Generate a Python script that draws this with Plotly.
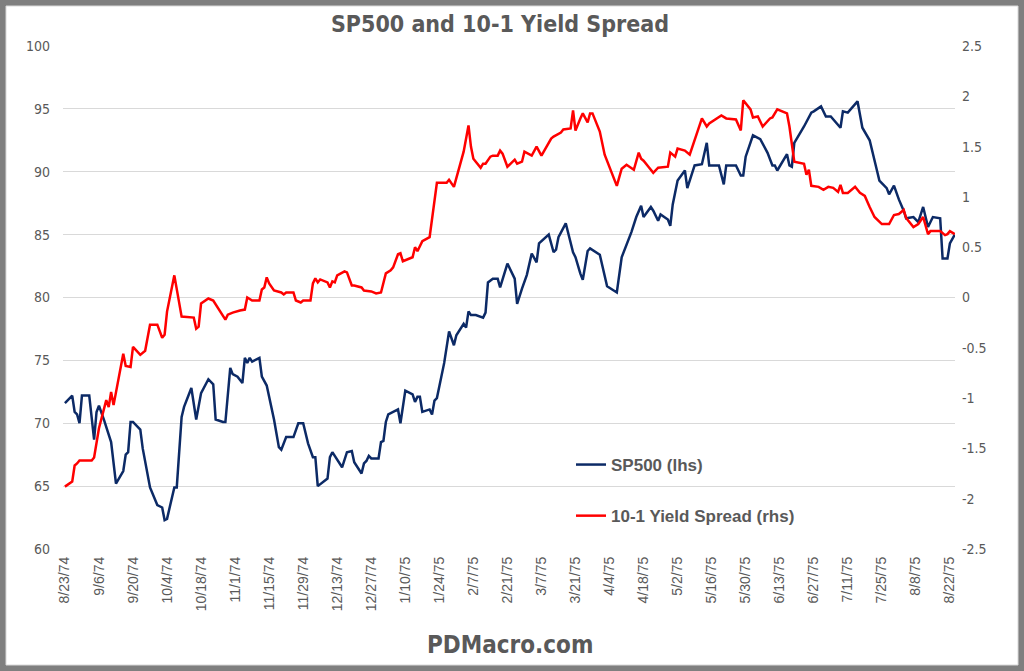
import pandas as pd
import plotly.graph_objects as go

# ---------------- data ----------------
START = "1974-08-23"
tick_labels = ["8/23/74", "9/6/74", "9/20/74", "10/4/74", "10/18/74", "11/1/74", "11/15/74",
               "11/29/74", "12/13/74", "12/27/74", "1/10/75", "1/24/75", "2/7/75", "2/21/75",
               "3/7/75", "3/21/75", "4/4/75", "4/18/75", "5/2/75", "5/16/75", "5/30/75",
               "6/13/75", "6/27/75", "7/11/75", "7/25/75", "8/8/75", "8/22/75"]

# SP500 (days since 8/23/74, level)
sp_days = [0, 3, 4, 5, 6, 7, 10, 12, 13, 14, 16, 19, 21, 24, 25, 26, 27, 28, 31, 32, 35, 38, 40, 41, 42,
           45, 46, 48, 49, 52, 54, 56, 59, 61, 62, 65, 66, 68, 69, 71, 73, 74, 75, 76, 77, 80, 81, 83,
           86, 88, 89, 91, 94, 96, 98, 100, 102, 103, 104, 108, 109, 110, 114, 116, 118, 119, 122, 123,
           124, 125, 126, 129, 130, 131, 132, 133, 137, 138, 140, 143, 144, 145, 146, 147, 150, 151,
           152, 153, 156, 158, 160, 161, 164, 165, 166, 167, 169, 172, 173, 174, 176, 178, 179, 182,
           185, 186, 188, 190, 192, 194, 195, 199, 201, 202, 203, 206, 209, 210, 212, 213, 215, 216,
           220, 221, 223, 227, 229, 233, 235, 237, 238, 241, 242, 244, 245, 248, 249, 250, 252, 255,
           256, 259, 262, 264, 265, 269, 271, 272, 276, 278, 279, 280, 283, 285, 286, 289, 291, 292,
           293, 297, 298, 299, 300, 304, 307, 308, 311, 313, 315, 319, 320, 322, 326, 328, 331, 334,
           335, 338, 339, 341, 343, 345, 346, 349, 351, 353, 355, 357, 360, 361, 363, 364, 366]
sp_values = [71.6, 72.2, 70.9, 70.7, 70.0, 72.2, 72.2, 68.7, 70.9, 71.4, 70.3, 68.5, 65.2, 66.2, 67.5,
             67.7, 70.1, 70.1, 69.5, 68.0, 64.9, 63.5, 63.3, 62.3, 62.4, 64.9, 64.9, 70.5, 71.3, 72.8,
             70.3, 72.4, 73.5, 73.1, 70.3, 70.1, 70.1, 74.4, 73.9, 73.7, 73.2, 75.2, 74.8, 75.2, 74.9,
             75.2, 73.7, 73.0, 70.3, 68.1, 67.9, 68.9, 68.9, 70.0, 70.0, 68.4, 67.3, 67.3, 65.0, 65.6,
             67.3, 67.7, 66.5, 67.7, 67.8, 66.9, 66.0, 66.8, 67.0, 67.4, 67.2, 67.2, 68.5, 68.6, 70.1,
             70.7, 71.1, 70.0, 72.6, 72.3, 71.7, 72.1, 72.1, 70.9, 71.1, 70.7, 71.8, 72.0, 74.8, 77.3,
             76.2, 77.0, 77.9, 77.6, 78.9, 78.6, 78.6, 78.4, 78.8, 81.2, 81.5, 81.5, 80.8, 82.7, 81.5,
             79.5, 80.7, 81.8, 83.5, 82.8, 84.3, 85.0, 83.6, 83.8, 84.8, 85.9, 83.6, 83.2, 81.9, 81.4,
             83.7, 83.9, 83.4, 82.6, 80.9, 80.4, 83.2, 85.2, 86.4, 87.3, 86.4, 87.2, 86.9, 86.1, 86.6,
             86.2, 85.7, 87.4, 89.3, 90.1, 88.7, 90.5, 90.6, 92.3, 90.5, 90.5, 89.0, 90.5, 90.5, 89.7,
             89.7, 91.2, 92.9, 92.7, 92.6, 91.5, 90.5, 90.5, 90.1, 91.4, 90.5, 90.4, 92.3, 93.6, 94.7,
             94.8, 95.2, 94.4, 94.4, 93.5, 94.8, 94.7, 95.6, 93.5, 92.5, 90.1, 89.3, 88.7, 88.2, 88.9,
             87.8, 86.9, 86.3, 86.4, 86.0, 87.2, 85.6, 86.4, 86.3, 83.1, 83.1, 84.3, 85.0]

# 10-1 yield spread (days since 8/23/74, percentage points)
spread_days = [0, 3, 4, 5, 6, 11, 12, 14, 17, 18, 19, 20, 24, 25, 27, 28, 31, 33, 35, 38, 40, 41, 42,
               45, 48, 53, 54, 55, 56, 59, 61, 66, 67, 69, 72, 74, 75, 77, 80, 81, 82, 83, 84, 86, 89,
               90, 91, 94, 95, 97, 98, 101, 102, 103, 104, 105, 108, 109, 110, 111, 112, 115, 116, 118,
               119, 122, 123, 126, 128, 130, 132, 134, 135, 137, 138, 139, 143, 144, 145, 147, 150, 151,
               153, 157, 158, 160, 162, 164, 166, 167, 168, 171, 172, 173, 175, 176, 178, 179, 180, 182,
               185, 186, 188, 189, 192, 194, 196, 198, 200, 201, 204, 205, 208, 209, 210, 212, 213, 215,
               216, 217, 220, 222, 224, 227, 229, 231, 234, 236, 237, 238, 240, 242, 244, 248, 249, 251,
               252, 255, 257, 259, 262, 264, 265, 270, 272, 276, 278, 279, 282, 283, 285, 287, 290, 291,
               293, 297, 298, 300, 304, 305, 306, 307, 310, 312, 314, 316, 318, 319, 320, 322, 325, 327,
               329, 331, 333, 336, 339, 341, 343, 345, 346, 349, 351, 353, 355, 356, 360, 362, 363, 364,
               366]
spread_values = [-1.88, -1.83, -1.67, -1.65, -1.62, -1.62, -1.59, -1.30, -1.02, -1.09, -0.94, -1.07,
                 -0.56, -0.68, -0.69, -0.49, -0.57, -0.53, -0.27, -0.27, -0.40, -0.37, -0.14, 0.22,
                 -0.19, -0.20, -0.31, -0.29, -0.06, -0.01, -0.03, -0.22, -0.17, -0.15, -0.13, -0.12,
                 0.00, -0.03, -0.03, 0.08, 0.10, 0.20, 0.14, 0.07, 0.05, 0.03, 0.05, 0.05, -0.03, -0.05,
                 -0.03, -0.03, 0.14, 0.19, 0.15, 0.18, 0.15, 0.10, 0.16, 0.15, 0.22, 0.26, 0.25, 0.12,
                 0.12, 0.10, 0.07, 0.06, 0.04, 0.05, 0.24, 0.27, 0.30, 0.43, 0.44, 0.36, 0.40, 0.50,
                 0.46, 0.56, 0.60, 0.80, 1.14, 1.14, 1.17, 1.10, 1.27, 1.45, 1.71, 1.50, 1.38, 1.29,
                 1.33, 1.33, 1.40, 1.41, 1.41, 1.46, 1.43, 1.30, 1.37, 1.33, 1.35, 1.45, 1.41, 1.50,
                 1.41, 1.50, 1.58, 1.60, 1.64, 1.67, 1.68, 1.86, 1.66, 1.78, 1.83, 1.74, 1.83, 1.83,
                 1.65, 1.42, 1.30, 1.11, 1.28, 1.32, 1.27, 1.44, 1.38, 1.36, 1.30, 1.24, 1.29, 1.30,
                 1.44, 1.40, 1.48, 1.46, 1.42, 1.57, 1.78, 1.70, 1.73, 1.81, 1.78, 1.77, 1.66, 1.96,
                 1.87, 1.79, 1.80, 1.70, 1.78, 1.79, 1.87, 1.83, 1.70, 1.35, 1.33, 1.22, 1.27, 1.11,
                 1.10, 1.07, 1.10, 1.09, 1.05, 1.12, 1.04, 1.04, 1.10, 1.04, 1.01, 0.90, 0.80, 0.73,
                 0.73, 0.82, 0.83, 0.87, 0.79, 0.70, 0.73, 0.80, 0.63, 0.66, 0.66, 0.62, 0.63, 0.66,
                 0.63]

left_ticks = [60, 65, 70, 75, 80, 85, 90, 95, 100]
right_ticks = [-2.5, -2, -1.5, -1, -0.5, 0, 0.5, 1, 1.5, 2, 2.5]
right_labels = ["-2.5", "-2", "-1.5", "-1", "-0.5", "0", "0.5", "1", "1.5", "2", "2.5"]

# ---------------- build ----------------
start = pd.Timestamp(START)
sp_dates = start + pd.to_timedelta(sp_days, unit="D")
spread_dates = start + pd.to_timedelta(spread_days, unit="D")
tick_dates = [start + pd.Timedelta(days=14 * i) for i in range(len(tick_labels))]

GREY = "#595959"
NARROW = "DejaVu Sans Condensed, Liberation Sans Narrow, sans-serif"

fig = go.Figure()
fig.add_trace(go.Scatter(x=sp_dates, y=sp_values, name="SP500 (lhs)", mode="lines",
                         line=dict(color="#0c2a66", width=2.5), legendgroup="a"))
fig.add_trace(go.Scatter(x=spread_dates, y=spread_values, name="10-1 Yield Spread (rhs)", mode="lines",
                         line=dict(color="#ff0000", width=2.5), yaxis="y2", legendgroup="b"))

W, H = 1024, 671
ml, mr, mt, mb = 63, 69, 46, 122
pw, ph = W - ml - mr, H - mt - mb
frame = 6
fig.add_shape(type="rect", xref="paper", yref="paper", layer="below",
              x0=(frame - ml) / pw, x1=(W - frame - ml) / pw,
              y0=-(mb - frame) / ph, y1=1 + (mt - frame) / ph,
              fillcolor="white", line=dict(color="#d9d9d9", width=1))

fig.add_annotation(text="<b>PDMacro.com</b>", xref="paper", yref="paper",
                   x=(510 - ml) / pw, y=-(645 - (H - mb)) / ph, showarrow=False,
                   font=dict(family=NARROW, size=24, color=GREY), xanchor="center", yanchor="middle")

fig.update_layout(
    width=W, height=H,
    margin=dict(l=ml, r=mr, t=mt, b=mb),
    paper_bgcolor="#7f7f7f",
    plot_bgcolor="rgba(0,0,0,0)",
    title=dict(text="<b>SP500 and 10-1 Yield Spread</b>", x=500 / W, xanchor="center",
               y=1 - 24 / H, yanchor="middle", yref="container",
               font=dict(family=NARROW, size=23, color=GREY)),
    xaxis=dict(range=[start - pd.Timedelta(hours=19), start + pd.Timedelta(days=366.1)],
               tickmode="array", tickvals=tick_dates, ticktext=tick_labels, tickangle=-90,
               showgrid=False, zeroline=False, showline=False, ticks="", ticklabelstandoff=4,
               tickfont=dict(family="Liberation Sans, Arial, sans-serif", size=14, color=GREY)),
    yaxis=dict(range=[60, 100], tickmode="array", tickvals=left_ticks,
               showgrid=True, gridcolor="#d9d9d9", gridwidth=1, zeroline=False, ticks="",
               ticklabelstandoff=12,
               tickfont=dict(family=NARROW, size=14, color=GREY)),
    yaxis2=dict(range=[-2.5, 2.5], tickmode="array", tickvals=right_ticks, ticktext=right_labels,
                overlaying="y", side="right", showgrid=False, zeroline=False, ticks="",
                ticklabelstandoff=6,
                tickfont=dict(family=NARROW, size=14, color=GREY)),
    showlegend=True,
    legend=dict(x=(571 - ml) / pw, y=(H - mb - 447) / ph, xanchor="left", yanchor="top",
                bgcolor="rgba(0,0,0,0)", tracegroupgap=26, traceorder="grouped",
                font=dict(family="Liberation Sans, Arial, sans-serif", size=17, color=GREY,
                          weight="bold")),
)

fig.write_html("out.html", post_script="document.body.style.margin='0';",
               config={"displayModeBar": False})
